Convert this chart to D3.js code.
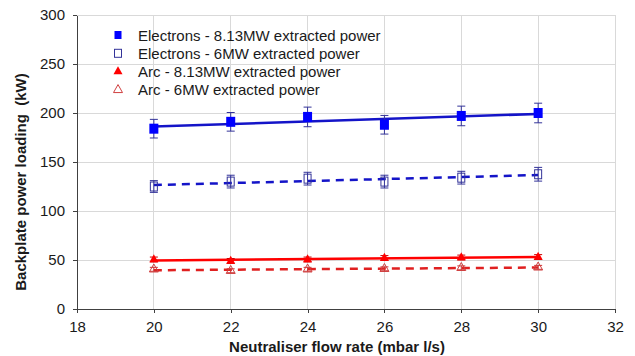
<!DOCTYPE html>
<html>
<head>
<meta charset="utf-8">
<script src="https://cdn.jsdelivr.net/npm/d3@7"></script>
<style>
  body { margin: 0; background: #fff; }
  text { font-family: "Liberation Sans", Arial, sans-serif; }
</style>
</head>
<body>
<div id="chart"></div>
<script>
// flow rate (mbar l/s)
var flow = [20, 22, 24, 26, 28, 30];

// backplate power loading (kW) and error bar half-widths
var elec813 = [184, 191, 196, 188, 197, 200];
var elec813Err = [9.5, 9.5, 10, 9.5, 10, 10];
var elec6 = [125, 130, 133, 130, 134, 137.5];
var elec6Err = [6, 6.5, 6.5, 6.5, 6.5, 7];
var arc813 = [50.5, 49, 50.5, 52, 52.5, 53];
var arc813Err = [2.5, 2.5, 2.5, 2.5, 2.5, 2.5];
var arc6 = [40.5, 39, 40.5, 41, 42, 42.5];
var arc6Err = [2, 2, 2, 2, 2, 2];

var xTicks = [18, 20, 22, 24, 26, 28, 30, 32];
var yTicks = [0, 50, 100, 150, 200, 250, 300];

var seriesNames = [
    "Electrons - 8.13MW extracted power",
    "Electrons - 6MW extracted power",
    "Arc - 8.13MW extracted power",
    "Arc - 6MW extracted power"
];

var W = 635, H = 356;

var svg = d3.select("#chart")
    .append("svg")
        .attr("width", W)
        .attr("height", H);

var x = d3.scaleLinear()
    .domain([18, 32])
    .range([77, 615]);

var y = d3.scaleLinear()
    .domain([0, 300])
    .range([309, 15]);

// gridlines
svg.append("g")
    .selectAll("line.h")
    .data(yTicks.slice(1))
    .enter()
    .append("line")
        .attr("x1", x(18))
        .attr("x2", x(32))
        .attr("y1", function(d) { return y(d) })
        .attr("y2", function(d) { return y(d) })
        .attr("stroke", "#d9d9d9")
        .attr("stroke-width", 1)
        .attr("shape-rendering", "crispEdges");

svg.append("g")
    .selectAll("line.v")
    .data(xTicks.slice(1))
    .enter()
    .append("line")
        .attr("x1", function(d) { return x(d) })
        .attr("x2", function(d) { return x(d) })
        .attr("y1", y(0))
        .attr("y2", y(300))
        .attr("stroke", "#d9d9d9")
        .attr("stroke-width", 1)
        .attr("shape-rendering", "crispEdges");

// axes
var xAxis = svg.append("g")
    .attr("transform", "translate(0," + y(0) + ")")
    .call(d3.axisBottom(x).tickValues(xTicks).tickSizeInner(4).tickSizeOuter(0).tickPadding(8));

var yAxis = svg.append("g")
    .attr("transform", "translate(" + x(18) + ",0)")
    .call(d3.axisLeft(y).tickValues(yTicks).tickSizeInner(4).tickSizeOuter(0).tickPadding(8));

[xAxis, yAxis].forEach(function(a) {
    a.select(".domain").attr("stroke", "#404040").attr("shape-rendering", "crispEdges");
    a.selectAll(".tick line").attr("stroke", "#404040").attr("shape-rendering", "crispEdges");
    a.selectAll(".tick text")
        .attr("fill", "#1a1a1a")
        .style("font-size", "15px")
        .style("font-family", "'Liberation Sans', Arial, sans-serif");
});

svg.append("text")
    .attr("x", 337)
    .attr("y", 352)
    .style("text-anchor", "middle")
    .style("font-size", "15px")
    .style("font-weight", "bold")
    .attr("fill", "#1a1a1a")
    .text("Neutraliser flow rate (mbar l/s)");

svg.append("text")
    .attr("transform", "translate(26,182) rotate(-90)")
    .style("text-anchor", "middle")
    .style("font-size", "15px")
    .style("font-weight", "bold")
    .style("white-space", "pre")
    .attr("fill", "#1a1a1a")
    .text("Backplate power loading  (kW)");

function linearFit(xs, ys) {
    var mx = d3.mean(xs), my = d3.mean(ys);
    var num = d3.sum(xs, function(v, i) { return (v - mx) * (ys[i] - my) });
    var den = d3.sum(xs, function(v) { return (v - mx) * (v - mx) });
    var b = num / den;
    return function(v) { return my + b * (v - mx) };
}

var series = [
    { vals: elec813, err: elec813Err, line: "#1414c8", dash: null, marker: "square", fill: "#0000ff", stroke: "#0000ff", errColor: "#333399" },
    { vals: elec6, err: elec6Err, line: "#1414c8", dash: "8,6", marker: "square", fill: "none", stroke: "#333399", errColor: "#333399" },
    { vals: arc813, err: arc813Err, line: "#ff0000", dash: null, marker: "triangle", fill: "#ff0000", stroke: "#ff0000", errColor: "#cc0000" },
    { vals: arc6, err: arc6Err, line: "#e02020", dash: "8,6", marker: "triangle", fill: "none", stroke: "#d04040", errColor: "#cc3333" }
];

function drawMarker(g, s, cx, cy, small) {
    if (s.marker == "square") {
        var open = s.fill == "none";
        var w = open ? 7 : 9, h = open ? 9 : 10;
        if (small) { w = 7; h = 8; }
        g.append("rect")
            .attr("x", cx - w / 2)
            .attr("y", cy - h / 2)
            .attr("width", w)
            .attr("height", h)
            .attr("fill", open ? "#fff" : s.fill)
            .attr("fill-opacity", open ? 0 : 1)
            .attr("stroke", s.stroke)
            .attr("stroke-width", open ? 1 : 0);
    } else {
        var tw = 9, th = small ? 8 : 8;
        // point sits at the centroid of the triangle
        g.append("path")
            .attr("d", "M" + cx + "," + (cy - th * 2 / 3) + "L" + (cx + tw / 2) + "," + (cy + th / 3) + "L" + (cx - tw / 2) + "," + (cy + th / 3) + "Z")
            .attr("fill", s.fill == "none" ? "none" : s.fill)
            .attr("stroke", s.stroke)
            .attr("stroke-width", s.fill == "none" ? 1 : 0);
    }
}

series.forEach(function(s) {
    var g = svg.append("g");
    var fit = linearFit(flow, s.vals);

    // trendline
    g.append("line")
        .attr("x1", x(flow[0]))
        .attr("x2", x(flow[flow.length - 1]))
        .attr("y1", y(fit(flow[0])))
        .attr("y2", y(fit(flow[flow.length - 1])))
        .attr("stroke", s.line)
        .attr("stroke-width", 2.5)
        .attr("stroke-dasharray", s.dash);

    // error bars
    flow.forEach(function(f, i) {
        var cx = x(f);
        var top = y(s.vals[i] + s.err[i]), bot = y(s.vals[i] - s.err[i]);
        g.append("line").attr("x1", cx).attr("x2", cx).attr("y1", top).attr("y2", bot)
            .attr("stroke", s.errColor).attr("stroke-width", 1);
        g.append("line").attr("x1", cx - 4).attr("x2", cx + 4).attr("y1", top).attr("y2", top)
            .attr("stroke", s.errColor).attr("stroke-width", 1);
        g.append("line").attr("x1", cx - 4).attr("x2", cx + 4).attr("y1", bot).attr("y2", bot)
            .attr("stroke", s.errColor).attr("stroke-width", 1);
    });

    // markers
    flow.forEach(function(f, i) {
        drawMarker(g, s, x(f), y(s.vals[i]), false);
    });
});

// legend
var legend = svg.append("g");
seriesNames.forEach(function(name, i) {
    var ly = 35 + i * 18.3;
    drawMarker(legend, series[i], 118, ly, true);
    legend.append("text")
        .attr("x", 138)
        .attr("y", ly + 5.5)
        .style("font-size", "15px")
        .attr("fill", "#1a1a1a")
        .text(name);
});
</script>
</body>
</html>
